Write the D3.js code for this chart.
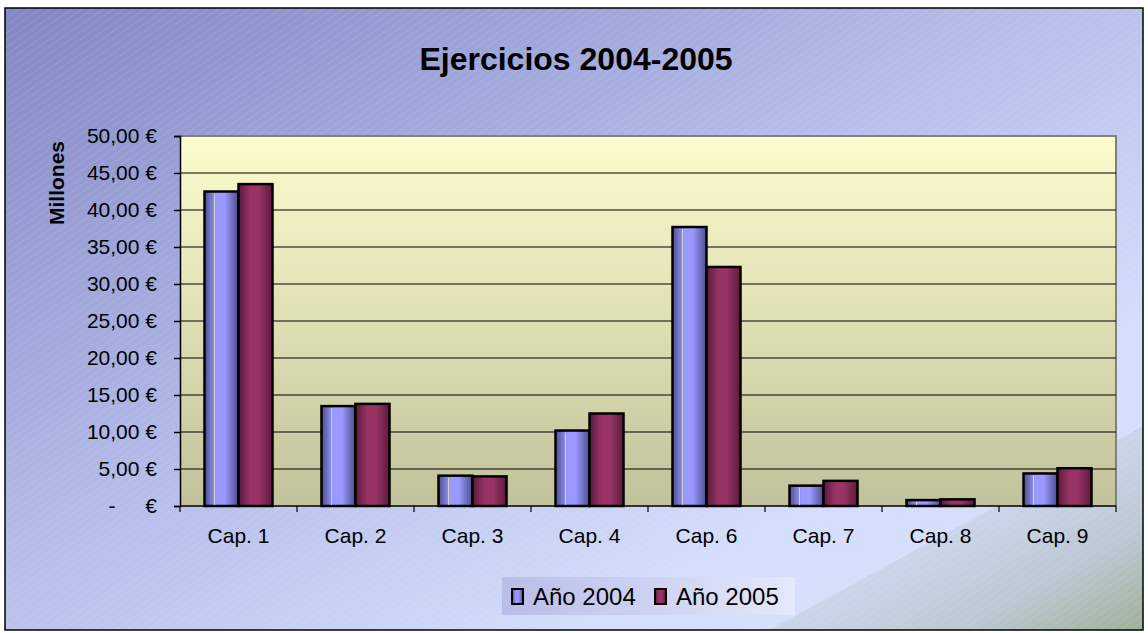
<!DOCTYPE html>
<html>
<head>
<meta charset="utf-8">
<script src="https://cdn.jsdelivr.net/npm/d3@7"></script>
<style>
  body { margin: 0; background: #fff; }
  text { font-family: Arial, "Liberation Sans", sans-serif; fill: #000; }
</style>
</head>
<body>
<svg width="1148" height="633"></svg>
<script>
const categories = ['Cap. 1', 'Cap. 2', 'Cap. 3', 'Cap. 4', 'Cap. 6', 'Cap. 7', 'Cap. 8', 'Cap. 9']
const seriesNames = ['Año 2004', 'Año 2005']
const values2004 = [42.5, 13.5, 4.1, 10.2, 37.7, 2.75, 0.8, 4.4]
const values2005 = [43.5, 13.8, 4.0, 12.5, 32.3, 3.4, 0.9, 5.1]
const yTicks = [0, 5, 10, 15, 20, 25, 30, 35, 40, 45, 50]

const svg = d3.select('svg')
const defs = svg.append('defs')

// background gradients
const bg = defs.append('linearGradient').attr('id', 'bg')
  .attr('x1', 0).attr('y1', 0).attr('x2', 1).attr('y2', 1)
bg.append('stop').attr('offset', '0%').attr('stop-color', '#8287c3')
bg.append('stop').attr('offset', '45%').attr('stop-color', '#b5bdea')
bg.append('stop').attr('offset', '75%').attr('stop-color', '#d4ddfb')
bg.append('stop').attr('offset', '100%').attr('stop-color', '#d8e1fc')

const corner = defs.append('linearGradient').attr('id', 'corner')
  .attr('gradientUnits', 'userSpaceOnUse')
  .attr('x1', 1057).attr('y1', 473).attr('x2', 1143).attr('y2', 630)
corner.append('stop').attr('offset', '0%').attr('stop-color', '#cbd5ea')
corner.append('stop').attr('offset', '50%').attr('stop-color', '#bcc8d4')
corner.append('stop').attr('offset', '100%').attr('stop-color', '#a0b098')

const hatch = defs.append('pattern').attr('id', 'hatch')
  .attr('width', 6).attr('height', 6).attr('patternUnits', 'userSpaceOnUse')
  .attr('patternTransform', 'rotate(-35)')
hatch.append('line').attr('x1', 0).attr('y1', 0).attr('x2', 6).attr('y2', 0)
  .attr('stroke', '#ffffff').attr('stroke-opacity', 0.18).attr('stroke-width', 1)

const plotBg = defs.append('linearGradient').attr('id', 'plotbg')
  .attr('x1', 0).attr('y1', 0).attr('x2', 0).attr('y2', 1)
plotBg.append('stop').attr('offset', '0%').attr('stop-color', '#fdfccd')
plotBg.append('stop').attr('offset', '100%').attr('stop-color', '#c1c29b')

const barGrad = (id, dark, light) => {
  const g = defs.append('linearGradient').attr('id', id)
    .attr('x1', 0).attr('y1', 0).attr('x2', 1).attr('y2', 0)
  g.append('stop').attr('offset', '0%').attr('stop-color', dark)
  g.append('stop').attr('offset', '35%').attr('stop-color', light)
  g.append('stop').attr('offset', '60%').attr('stop-color', light)
  g.append('stop').attr('offset', '100%').attr('stop-color', dark)
}
barGrad('blue', '#4c4e8c', '#9999ff')
barGrad('red', '#5a1a3a', '#993366')

const legendBg = defs.append('linearGradient').attr('id', 'legbg')
  .attr('x1', 0).attr('y1', 0).attr('x2', 1).attr('y2', 0)
legendBg.append('stop').attr('offset', '0%').attr('stop-color', '#b9bde8')
legendBg.append('stop').attr('offset', '100%').attr('stop-color', '#e4e8fb')

// outer frame
svg.append('rect').attr('x', 5).attr('y', 8).attr('width', 1138).attr('height', 622)
  .attr('fill', 'url(#bg)')
svg.append('path').attr('d', 'M769,630L1143,426V630Z')
  .attr('fill', 'url(#corner)')
svg.append('rect').attr('x', 5).attr('y', 8).attr('width', 1138).attr('height', 622)
  .attr('fill', 'url(#hatch)')
svg.append('rect').attr('x', 5).attr('y', 8).attr('width', 1138).attr('height', 622)
  .attr('fill', 'none').attr('stroke', '#000').attr('stroke-width', 1.5)

const plot = { left: 180, right: 1116, top: 136, bottom: 506 }

const x = d3.scaleBand().domain(categories).range([plot.left, plot.right])
const xs = d3.scaleBand().domain(seriesNames).range([0, x.bandwidth()])
  .paddingOuter(0.72).paddingInner(0)
const y = d3.scaleLinear().domain([0, 50]).range([plot.bottom, plot.top])

// plot area
svg.append('rect').attr('x', plot.left).attr('y', plot.top)
  .attr('width', plot.right - plot.left).attr('height', plot.bottom - plot.top)
  .attr('fill', 'url(#plotbg)')
svg.append('path')
  .attr('d', `M${plot.left},${plot.top}H${plot.right}V${plot.bottom}`)
  .attr('fill', 'none').attr('stroke', '#808080').attr('stroke-width', 2)

// grid lines
svg.append('g').selectAll('line').data(yTicks.filter(d => d > 0 && d < 50)).join('line')
  .attr('x1', plot.left).attr('x2', plot.right)
  .attr('y1', d => y(d)).attr('y2', d => y(d))
  .attr('stroke', '#000').attr('stroke-width', 1.2)

// bars
const data = categories.map((c, i) => ({ cat: c, vals: [values2004[i], values2005[i]] }))
const groups = svg.append('g').selectAll('g').data(data).join('g')
  .attr('transform', d => `translate(${x(d.cat)},0)`)
groups.selectAll('rect').data(d => d.vals.map((v, j) => ({ v, s: seriesNames[j] }))).join('rect')
  .attr('x', d => xs(d.s))
  .attr('y', d => y(d.v))
  .attr('width', xs.bandwidth())
  .attr('height', d => y(0) - y(d.v))
  .attr('fill', d => d.s === seriesNames[0] ? 'url(#blue)' : 'url(#red)')
  .attr('stroke', '#000').attr('stroke-width', 2.5)
groups.append('line')
  .attr('x1', xs(seriesNames[0]) + 10).attr('x2', xs(seriesNames[0]) + 10)
  .attr('y1', d => y(d.vals[0]) + 2).attr('y2', y(0) - 1)
  .attr('stroke', '#e8e8c8').attr('stroke-width', 1).attr('opacity', 0.8)

// y axis
const yAxis = svg.append('g').attr('transform', `translate(${plot.left},0)`)
  .call(d3.axisLeft(y).tickValues(yTicks).tickSize(6).tickPadding(17)
    .tickFormat(d => d === 0 ? '€' : d3.format('.2f')(d).replace('.', ',') + ' €'))
yAxis.attr('font-size', null).attr('font-family', null)
yAxis.select('.domain').attr('stroke', '#000').attr('stroke-width', 1.5)
yAxis.selectAll('.tick line').attr('stroke', '#000').attr('stroke-width', 1.5)
yAxis.selectAll('.tick text').style('font-size', '21px').attr('fill', '#000')
svg.append('text').attr('x', 112).attr('y', y(0)).attr('dy', '0.32em')
  .attr('text-anchor', 'middle').style('font-size', '21px').text('-')

// x axis
const xAxis = svg.append('g').attr('transform', `translate(0,${plot.bottom})`)
xAxis.append('line').attr('x1', plot.left).attr('x2', plot.right)
  .attr('stroke', '#000').attr('stroke-width', 1.5)
xAxis.selectAll('.tk').data(categories.concat([null])).join('line')
  .attr('x1', (d, i) => plot.left + i * x.step()).attr('x2', (d, i) => plot.left + i * x.step())
  .attr('y1', 0).attr('y2', 6).attr('stroke', '#000').attr('stroke-width', 1.2)
xAxis.selectAll('text').data(categories).join('text')
  .attr('x', d => x(d) + x.bandwidth() / 2).attr('y', 37)
  .attr('text-anchor', 'middle').style('font-size', '21px').text(d => d)

// titles
svg.append('text').attr('x', 576).attr('y', 70).attr('text-anchor', 'middle')
  .style('font-size', '32px').attr('font-weight', 'bold').text('Ejercicios 2004-2005')
svg.append('text').attr('transform', 'translate(64,183) rotate(-90)')
  .attr('text-anchor', 'middle').style('font-size', '21px').attr('font-weight', 'bold')
  .text('Millones')

// legend
const legend = svg.append('g').attr('transform', 'translate(502,577)')
legend.append('rect').attr('width', 293).attr('height', 38).attr('fill', 'url(#legbg)')
const items = legend.selectAll('g').data(seriesNames).join('g')
  .attr('transform', (d, i) => `translate(${9 + i * 143},0)`)
items.append('rect').attr('x', 1).attr('y', 12).attr('width', 11).attr('height', 15)
  .attr('fill', (d, i) => i === 0 ? 'url(#blue)' : 'url(#red)')
  .attr('stroke', '#000').attr('stroke-width', 2)
items.append('text').attr('x', 22).attr('y', 28).style('font-size', '24px').text(d => d)
</script>
</body>
</html>
